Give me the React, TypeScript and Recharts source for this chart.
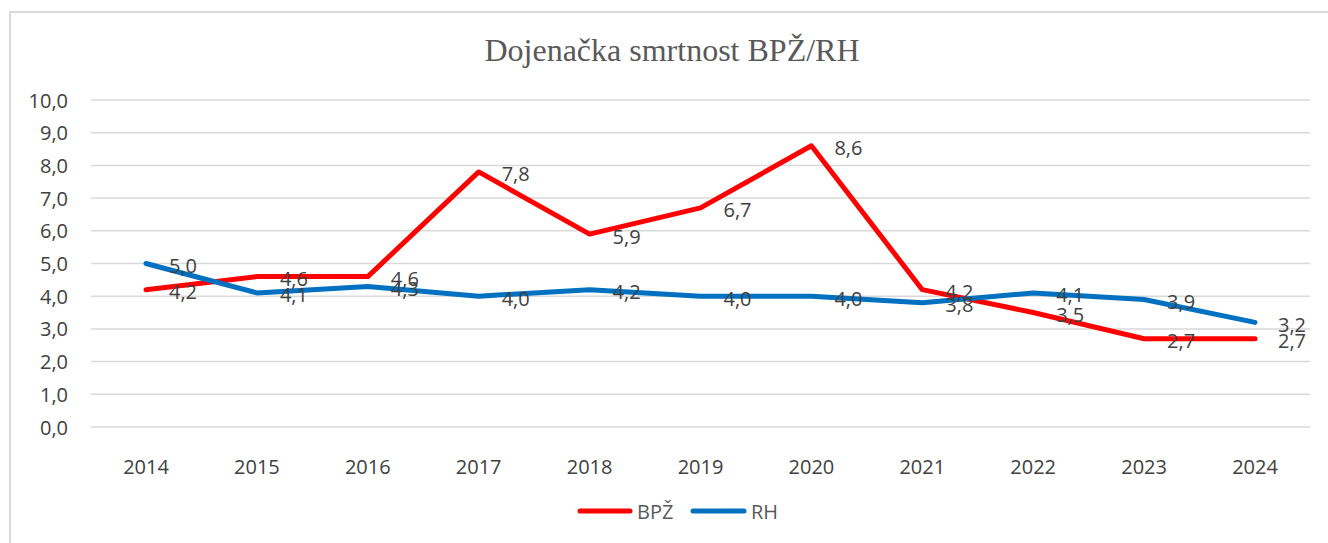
import React from 'react';
import { LineChart, Line, XAxis, YAxis, CartesianGrid, LabelList } from 'recharts';

const years = ['2014', '2015', '2016', '2017', '2018', '2019', '2020', '2021', '2022', '2023', '2024'];
const bpz = [4.2, 4.6, 4.6, 7.8, 5.9, 6.7, 8.6, 4.2, 3.5, 2.7, 2.7];
const rh = [5.0, 4.1, 4.3, 4.0, 4.2, 4.0, 4.0, 3.8, 4.1, 3.9, 3.2];
const yTicks = [0, 1, 2, 3, 4, 5, 6, 7, 8, 9, 10];

const RED = '#FF0000';
const BLUE = '#0070C0';
const TEXT = '#404040';
const FONT = '"Open Sans", "Noto Sans", sans-serif';

const fmt = (v: number) => v.toFixed(1).replace('.', ',');

const data = years.map((year, i) => ({ year, bpz: bpz[i], rh: rh[i] }));

const XTick = (props: any) => {
  const { x, y, payload } = props;
  return (
    <text x={x} y={y + 31} textAnchor="middle" dominantBaseline="central" fill={TEXT} fontSize={20} fontFamily={FONT}>
      {payload.value}
    </text>
  );
};

const YTick = (props: any) => {
  const { y, payload } = props;
  return (
    <text x={68} y={y} textAnchor="end" dominantBaseline="central" fill={TEXT} fontSize={20} fontFamily={FONT}>
      {fmt(payload.value)}
    </text>
  );
};

const renderLabel = (props: any) => {
  const { x, y, value } = props;
  return (
    <text x={x + 23} y={y + 2} textAnchor="start" dominantBaseline="central" fill={TEXT} fontSize={20} fontFamily={FONT}>
      {fmt(value)}
    </text>
  );
};

export default function App() {
  return (
    <div style={{ position: 'absolute', left: 0, top: 0, width: 1328, height: 543, overflow: 'hidden', background: '#fff' }}>
      <div style={{ position: 'absolute', left: 9, top: 11, width: 1340, height: 560, border: '2px solid #d9d9d9' }} />
      <svg style={{ position: 'absolute', left: 0, top: 0 }} width={1328} height={543}>
        <text x={672} y={61} textAnchor="middle" fill="#595959" fontSize={32} fontFamily='"Liberation Serif", "Times New Roman", serif'>
          Dojenačka smrtnost BPŽ/RH
        </text>
        <line x1={580} y1={511} x2={630} y2={511} stroke={RED} strokeWidth={5} strokeLinecap="round" />
        <text x={637} y={511} dominantBaseline="central" fill="#595959" fontSize={20} fontFamily={FONT}>BPŽ</text>
        <line x1={693} y1={511} x2={744} y2={511} stroke={BLUE} strokeWidth={5} strokeLinecap="round" />
        <text x={751} y={511} dominantBaseline="central" fill="#595959" fontSize={20} fontFamily={FONT}>RH</text>
      </svg>
      <div style={{ position: 'absolute', left: 0, top: 0 }}>
        <LineChart width={1328} height={543} data={data} margin={{ top: 100, right: 18, bottom: 86, left: 0 }}>
          <CartesianGrid vertical={false} stroke="#d9d9d9" strokeWidth={1.5} />
          <XAxis
            dataKey="year"
            height={30}
            axisLine={false}
            tickLine={false}
            padding={{ left: 55, right: 55 }}
            tick={<XTick />}
            interval={0}
          />
          <YAxis
            width={91}
            domain={[0, 10]}
            ticks={yTicks}
            axisLine={false}
            tickLine={false}
            tick={<YTick />}
            interval={0}
          />
          <Line dataKey="bpz" stroke={RED} strokeWidth={5} dot={false} strokeLinejoin="round" strokeLinecap="round" isAnimationActive={false} />
          <Line dataKey="rh" stroke={BLUE} strokeWidth={5} dot={false} strokeLinejoin="round" strokeLinecap="round" isAnimationActive={false} />
          <Line dataKey="bpz" stroke="none" dot={false} activeDot={false} isAnimationActive={false}>
            <LabelList dataKey="bpz" content={renderLabel} />
          </Line>
          <Line dataKey="rh" stroke="none" dot={false} activeDot={false} isAnimationActive={false}>
            <LabelList dataKey="rh" content={renderLabel} />
          </Line>
        </LineChart>
      </div>
    </div>
  );
}
